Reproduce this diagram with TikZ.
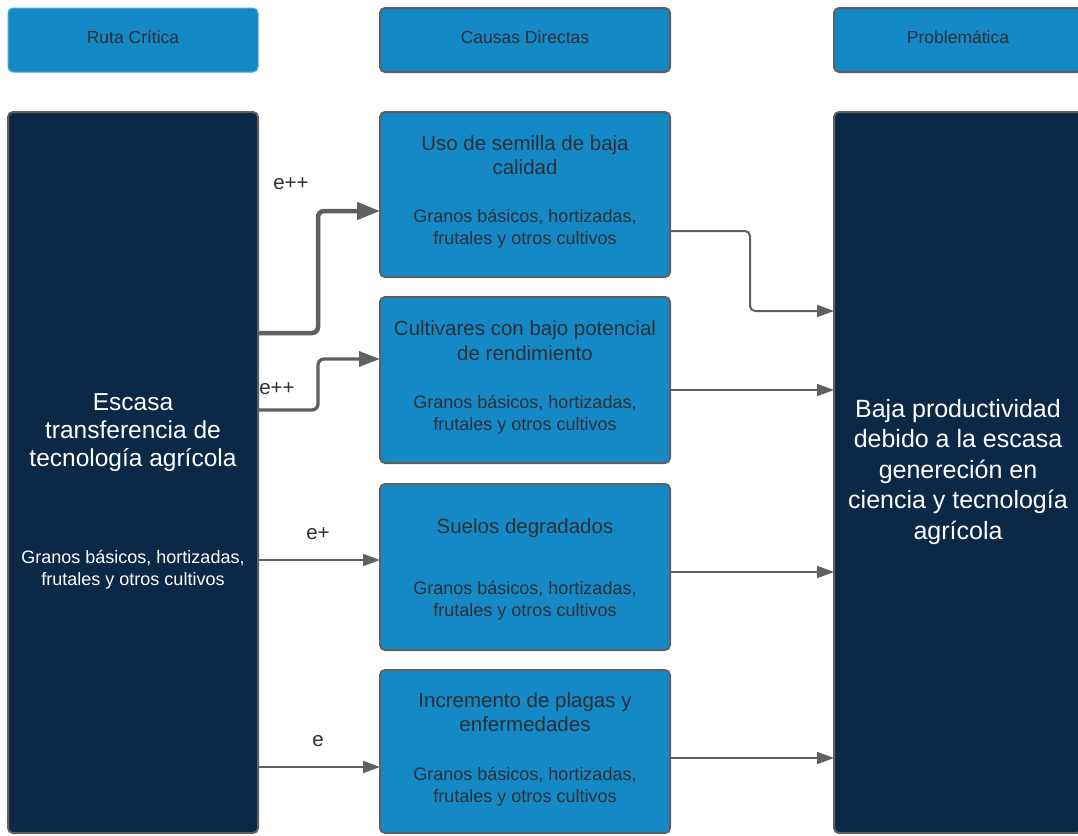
\documentclass[tikz,border=0pt]{standalone}
\usepackage{fontspec}
\setmainfont{Liberation Sans}
\usetikzlibrary{arrows.meta,calc}
\definecolor{hdr}{HTML}{1589C6}
\definecolor{hdrlight}{HTML}{4FA8DA}
\definecolor{navy}{HTML}{0B2847}
\definecolor{bord}{HTML}{606060}
\definecolor{dtext}{HTML}{2B2F38}
\begin{document}
\begin{tikzpicture}[x=1pt,y=-1pt,
  box/.style={rectangle,rounded corners=5pt,draw=bord,line width=2pt,inner sep=0pt,outer sep=0pt,anchor=north west},
  bluebox/.style={box,fill=hdr},
  navybox/.style={box,fill=navy},
  hdrtext/.style={font=\fontsize{17.5}{21}\selectfont,text=dtext},
  titletext/.style={font=\fontsize{20.5}{24.5}\selectfont,text=dtext,align=center},
  subtext/.style={font=\fontsize{18}{22}\selectfont,text=dtext,align=center},
  wsubtext/.style={font=\fontsize{18}{22}\selectfont,text=white,align=center},
  bigtext/.style={font=\fontsize{24.5}{28}\selectfont,text=white,align=center},
  hugetext/.style={font=\fontsize{25}{30.5}\selectfont,text=white,align=center},
  lbltext/.style={font=\fontsize{20.5}{24}\selectfont,text=dtext},
  conn/.style={draw=bord,line width=2pt,rounded corners=5pt,-{Triangle[length=17pt,width=12pt]}},
  connthick/.style={draw=bord,line width=4.5pt,rounded corners=6pt,-{Triangle[length=23pt,width=17pt]}},
  connmid/.style={draw=bord,line width=3.3pt,rounded corners=6pt,-{Triangle[length=21pt,width=15pt]}}
]
\useasboundingbox (0,0) rectangle (1078,835);
\clip (0,0) rectangle (1078,835);
\fill[white] (0,0) rectangle (1078,835);

% headers
\node[bluebox,draw=hdrlight,line width=1pt,minimum width=250pt,minimum height=64pt] (h1) at (8,8) {};
\node[bluebox,minimum width=290pt,minimum height=64pt] (h2) at (380,8) {};
\node[bluebox,minimum width=248pt,minimum height=64pt] (h3) at (834,8) {};
\node[hdrtext] (th1) at ([yshift=3pt]h1.center) {Ruta Crítica};
\node[hdrtext] (th2) at ([yshift=3pt]h2.center) {Causas Directas};
\node[hdrtext] (th3) at ([yshift=3pt]h3.center) {Problemática};

% left and right columns
\node[navybox,minimum width=250pt,minimum height=721pt] (lb) at (8,112) {};
\node[navybox,minimum width=248pt,minimum height=721pt] (rb) at (834,112) {};
\node[bigtext] (tlb) at (133,433) {Escasa\\transferencia de\\tecnología agrícola};
\node[wsubtext] (slb) at (133,569.5) {Granos básicos, hortizadas,\\frutales y otros cultivos};
\node[hugetext] (trb) at (958,472) {Baja productividad\\debido a la escasa\\genereción en\\ciencia y tecnología\\agrícola};

% middle boxes
\node[bluebox,minimum width=290pt,minimum height=165pt] (b1) at (380,112) {};
\node[bluebox,minimum width=290pt,minimum height=166pt] (b2) at (380,297) {};
\node[bluebox,minimum width=290pt,minimum height=166pt] (b3) at (380,484) {};
\node[bluebox,minimum width=290pt,minimum height=163pt] (b4) at (380,670) {};

\node[titletext] (tb1) at (525,155) {Uso de semilla de baja\\calidad};
\node[subtext] (sb1) at (525,229) {Granos básicos, hortizadas,\\frutales y otros cultivos};
\node[titletext] (tb2) at (525,340.5) {Cultivares con bajo potencial\\de rendimiento};
\node[subtext] (sb2) at (525,415) {Granos básicos, hortizadas,\\frutales y otros cultivos};
\node[titletext] (tb3) at (525,528.5) {Suelos degradados};
\node[subtext] (sb3) at (525,600.5) {Granos básicos, hortizadas,\\frutales y otros cultivos};
\node[titletext] (tb4) at (525,712) {Incremento de plagas y\\enfermedades};
\node[subtext] (sb4) at (525,787) {Granos básicos, hortizadas,\\frutales y otros cultivos};

% left connectors
\draw[connthick] ([yshift=-221pt]lb.north east) -- (318,333) -- (318,211) -- ([yshift=-99pt]b1.north west);
\draw[connmid] ([yshift=-298pt]lb.north east) -- (318,410) -- (318,359) -- ([yshift=-62pt]b2.north west);
\draw[conn] ([yshift=-448pt]lb.north east) -- ([yshift=-76pt]b3.north west);
\draw[conn] ([yshift=-655pt]lb.north east) -- ([yshift=-97pt]b4.north west);

\node[lbltext] (l1) at (291,184) {e++};
\node[lbltext] (l2) at (277,389) {e++};
\node[lbltext] (l3) at (318,534) {e+};
\node[lbltext] (l4) at (318,741) {e};

% right connectors
\draw[conn] ([yshift=-119pt]b1.north east) -- (750,231) -- (750,311) -- ([yshift=-199pt]rb.north west);
\draw[conn] ([yshift=-93pt]b2.north east) -- ([yshift=-278pt]rb.north west);
\draw[conn] ([yshift=-88pt]b3.north east) -- ([yshift=-460pt]rb.north west);
\draw[conn] ([yshift=-88pt]b4.north east) -- ([yshift=-646pt]rb.north west);
\end{tikzpicture}
\end{document}
